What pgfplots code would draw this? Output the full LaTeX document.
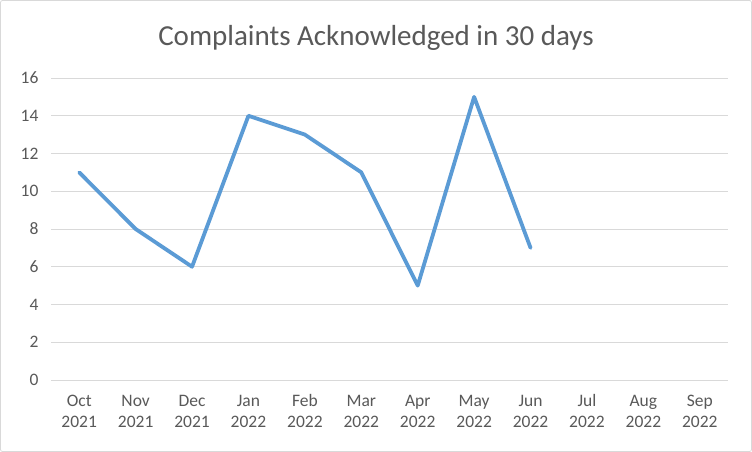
\documentclass[border=0pt]{standalone}
\usepackage{fontspec}
\setmainfont{Carlito}
\usepackage{pgfplots}
\pgfplotsset{compat=1.18}
\definecolor{txt}{HTML}{595959}
\definecolor{gridc}{HTML}{D9D9D9}
\definecolor{linec}{HTML}{5B9BD5}
\newcommand{\tl}[2]{\strut#1\\\strut#2}
\begin{document}
\begin{tikzpicture}[x=1pt,y=1pt]
\fill[white] (0,0) rectangle (752,452);
\draw[gridc, line width=0.8pt, rounded corners=2pt] (0.5,0.5) rectangle (751.5,451.5);
\node[txt, font=\fontsize{29}{33}\selectfont] at (376,414) {Complaints Acknowledged in 30 days};
\begin{axis}[
  at={(51pt,72pt)}, anchor=south west,
  scale only axis, width=677pt, height=302pt,
  xmin=-0.5, xmax=11.5, ymin=0, ymax=16,
  ytick={0,2,...,16},
  xtick={0,...,11},
  xticklabels={{\tl{Oct}{2021}},{\tl{Nov}{2021}},{\tl{Dec}{2021}},{\tl{Jan}{2022}},{\tl{Feb}{2022}},{\tl{Mar}{2022}},{\tl{Apr}{2022}},{\tl{May}{2022}},{\tl{Jun}{2022}},{\tl{Jul}{2022}},{\tl{Aug}{2022}},{\tl{Sep}{2022}}},
  xticklabel style={align=center, font=\fontsize{17.5}{21}\selectfont, text=txt, yshift=-8pt},
  yticklabel style={font=\fontsize{17.5}{20}\selectfont, text=txt, xshift=-9pt},
  /pgf/number format/assume math mode=true,
  major tick length=0pt,
  ymajorgrids, xmajorgrids=false, grid style={draw=gridc, line width=0.8pt},
  axis y line*=left, y axis line style={draw=none},
  axis x line*=bottom, x axis line style={draw=gridc, line width=0.8pt},
  tick style={draw=none},
  clip=false,
]
\addplot[linec, line width=3.8pt, line join=round, line cap=round] coordinates {
(0,11) (1,8) (2,6) (3,14) (4,13) (5,11) (6,5) (7,15) (8,7)
};
\end{axis}
\end{tikzpicture}
\end{document}
